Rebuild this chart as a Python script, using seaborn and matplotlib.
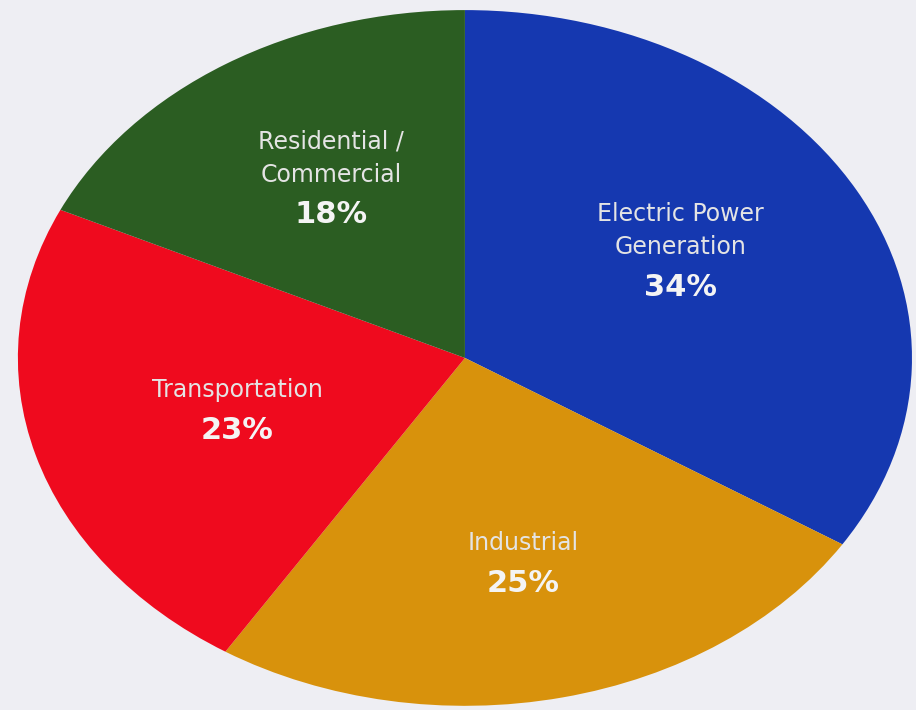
import numpy as np
import matplotlib
matplotlib.use("Agg")
import matplotlib.pyplot as plt
import seaborn as sns

# Data (clockwise from 12 o'clock)
sectors = ["Electric Power\nGeneration", "Industrial", "Transportation", "Residential /\nCommercial"]
shares = [34, 25, 23, 18]
colors = ["#1538B0", "#D8920C", "#EF0A1E", "#2B5D22"]

sns.set_theme(style="white")

fig = plt.figure(figsize=(9.16, 7.10), dpi=100)
fig.patch.set_facecolor("#EEEEF3")
ax = fig.add_axes([0, 0, 1, 1])
ax.set_facecolor("#EEEEF3")

wedges, _ = ax.pie(shares, colors=colors, startangle=90, counterclock=False,
                   radius=1.0, wedgeprops=dict(linewidth=0))

# stretch the pie into the wide ellipse of the reference
ax.set_aspect("auto")
ax.set_xlim(-1.040, 1.009)
ax.set_ylim(-1.012, 1.029)
ax.axis("off")

# label distance from centre per wedge (layout only)
label_r = [0.55, 0.60, 0.53, 0.56]

for w, name, pct, r in zip(wedges, sectors, shares, label_r):
    mid = np.deg2rad((w.theta1 + w.theta2) / 2)
    x, y = r * np.cos(mid), r * np.sin(mid)
    ax.annotate(name, (x, y), xytext=(0, 5), textcoords="offset points",
                ha="center", va="bottom", color="#E4E4E4", fontsize=17,
                family="DejaVu Sans", linespacing=1.45)
    ax.annotate(f"{pct}%", (x, y), xytext=(0, -5), textcoords="offset points",
                ha="center", va="top", color="#F4F4F4", fontsize=22,
                fontweight="bold", family="DejaVu Sans")

fig.savefig("out.png", dpi=100, facecolor=fig.get_facecolor())
